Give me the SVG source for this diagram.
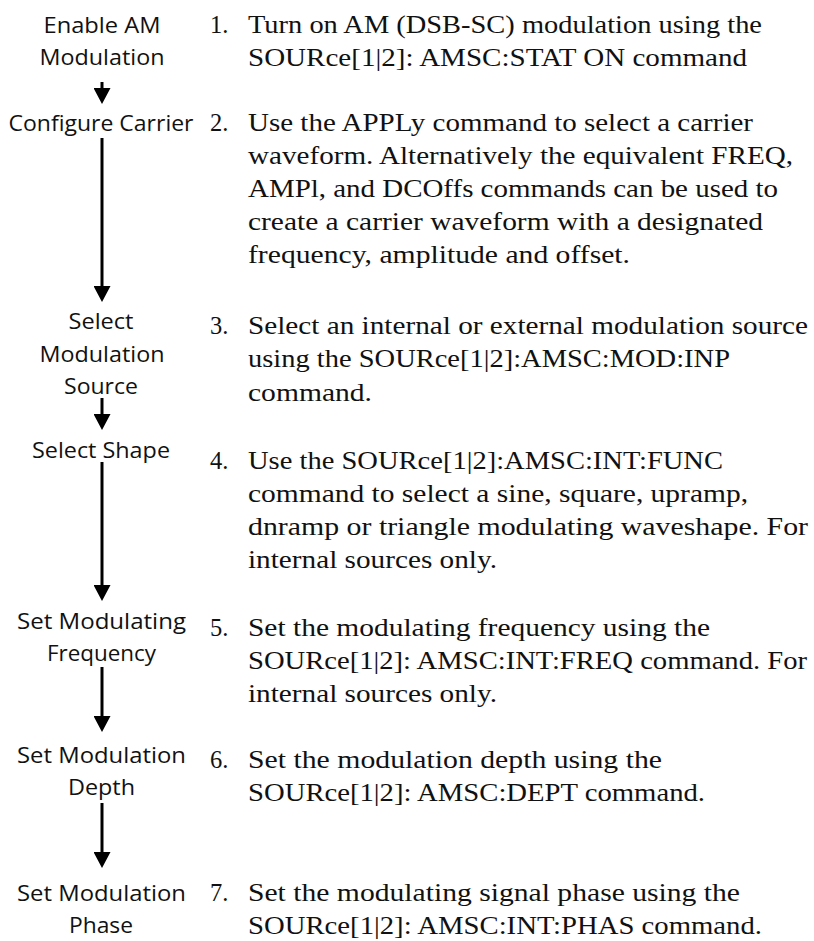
<svg xmlns="http://www.w3.org/2000/svg" width="814" height="941" viewBox="0 0 814 941">
<style>
  .lbl { font-family: "Open Sans", "Noto Sans", "Liberation Sans", sans-serif; font-size: 22px; fill: #111; text-anchor: middle; }
  .num { font-family: "Liberation Serif", "DejaVu Serif", serif; font-size: 24.5px; fill: #111; }
  .txt { font-family: "Liberation Serif", "DejaVu Serif", serif; font-size: 24.5px; fill: #111; }
  .conn { stroke: #000; stroke-width: 3; fill: none; }
</style>
<defs>
  <marker id="ah" markerUnits="userSpaceOnUse" markerWidth="16" markerHeight="17" viewBox="0 0 16 17" refX="6" refY="8.5" orient="auto">
    <path d="M0,0 L16,8.5 L0,17 Z" fill="#000"/>
  </marker>
</defs>
<rect width="814" height="941" fill="#fff"/>
<g id="connectors">
  <line class="conn" x1="102" y1="82" x2="102" y2="94" marker-end="url(#ah)"/>
  <line class="conn" x1="102" y1="138" x2="102" y2="292" marker-end="url(#ah)"/>
  <line class="conn" x1="102" y1="398" x2="102" y2="420" marker-end="url(#ah)"/>
  <line class="conn" x1="102" y1="462" x2="102" y2="591" marker-end="url(#ah)"/>
  <line class="conn" x1="102" y1="667" x2="102" y2="722" marker-end="url(#ah)"/>
  <line class="conn" x1="102" y1="803" x2="102" y2="858" marker-end="url(#ah)"/>
</g>
<g id="node1">
  <text class="lbl" x="102" y="33" textLength="117" lengthAdjust="spacingAndGlyphs">Enable AM</text>
  <text class="lbl" x="102" y="65" textLength="125" lengthAdjust="spacingAndGlyphs">Modulation</text>
  <text class="num" x="210" y="33">1.</text>
  <text class="txt" x="248" y="33" textLength="514" lengthAdjust="spacingAndGlyphs">Turn on AM (DSB-SC) modulation using the</text>
  <text class="txt" x="248" y="66" textLength="499" lengthAdjust="spacingAndGlyphs">SOURce[1|2]: AMSC:STAT ON command</text>
</g>
<g id="node2">
  <text class="lbl" x="101" y="131" textLength="185" lengthAdjust="spacingAndGlyphs">Configure Carrier</text>
  <text class="num" x="210" y="131">2.</text>
  <text class="txt" x="248" y="131" textLength="505" lengthAdjust="spacingAndGlyphs">Use the APPLy command to select a carrier</text>
  <text class="txt" x="248" y="164" textLength="545" lengthAdjust="spacingAndGlyphs">waveform. Alternatively the equivalent FREQ,</text>
  <text class="txt" x="248" y="197" textLength="530" lengthAdjust="spacingAndGlyphs">AMPl, and DCOffs commands can be used to</text>
  <text class="txt" x="248" y="230" textLength="515" lengthAdjust="spacingAndGlyphs">create a carrier waveform with a designated</text>
  <text class="txt" x="248" y="263" textLength="382" lengthAdjust="spacingAndGlyphs">frequency, amplitude and offset.</text>
</g>
<g id="node3">
  <text class="lbl" x="101" y="329" textLength="65" lengthAdjust="spacingAndGlyphs">Select</text>
  <text class="lbl" x="102" y="362" textLength="125" lengthAdjust="spacingAndGlyphs">Modulation</text>
  <text class="lbl" x="101" y="394" textLength="74" lengthAdjust="spacingAndGlyphs">Source</text>
  <text class="num" x="210" y="334">3.</text>
  <text class="txt" x="248" y="334" textLength="560" lengthAdjust="spacingAndGlyphs">Select an internal or external modulation source</text>
  <text class="txt" x="248" y="367" textLength="482" lengthAdjust="spacingAndGlyphs">using the SOURce[1|2]:AMSC:MOD:INP</text>
  <text class="txt" x="248" y="401" textLength="124" lengthAdjust="spacingAndGlyphs">command.</text>
</g>
<g id="node4">
  <text class="lbl" x="101" y="458" textLength="138" lengthAdjust="spacingAndGlyphs">Select Shape</text>
  <text class="num" x="210" y="469">4.</text>
  <text class="txt" x="248" y="469" textLength="475" lengthAdjust="spacingAndGlyphs">Use the SOURce[1|2]:AMSC:INT:FUNC</text>
  <text class="txt" x="248" y="502" textLength="500" lengthAdjust="spacingAndGlyphs">command to select a sine, square, upramp,</text>
  <text class="txt" x="248" y="535" textLength="560" lengthAdjust="spacingAndGlyphs">dnramp or triangle modulating waveshape. For</text>
  <text class="txt" x="248" y="568" textLength="249" lengthAdjust="spacingAndGlyphs">internal sources only.</text>
</g>
<g id="node5">
  <text class="lbl" x="101.5" y="629" textLength="169" lengthAdjust="spacingAndGlyphs">Set Modulating</text>
  <text class="lbl" x="101.5" y="661" textLength="109" lengthAdjust="spacingAndGlyphs">Frequency</text>
  <text class="num" x="210" y="636">5.</text>
  <text class="txt" x="248" y="636" textLength="462" lengthAdjust="spacingAndGlyphs">Set the modulating frequency using the</text>
  <text class="txt" x="248" y="669" textLength="559" lengthAdjust="spacingAndGlyphs">SOURce[1|2]: AMSC:INT:FREQ command. For</text>
  <text class="txt" x="248" y="702" textLength="249" lengthAdjust="spacingAndGlyphs">internal sources only.</text>
</g>
<g id="node6">
  <text class="lbl" x="101.5" y="763" textLength="169" lengthAdjust="spacingAndGlyphs">Set Modulation</text>
  <text class="lbl" x="101.5" y="795" textLength="67" lengthAdjust="spacingAndGlyphs">Depth</text>
  <text class="num" x="210" y="768">6.</text>
  <text class="txt" x="248" y="768" textLength="414" lengthAdjust="spacingAndGlyphs">Set the modulation depth using the</text>
  <text class="txt" x="248" y="801" textLength="457" lengthAdjust="spacingAndGlyphs">SOURce[1|2]: AMSC:DEPT command.</text>
</g>
<g id="node7">
  <text class="lbl" x="101.5" y="901" textLength="169" lengthAdjust="spacingAndGlyphs">Set Modulation</text>
  <text class="lbl" x="101" y="933" textLength="64" lengthAdjust="spacingAndGlyphs">Phase</text>
  <text class="num" x="210" y="901">7.</text>
  <text class="txt" x="248" y="901" textLength="492" lengthAdjust="spacingAndGlyphs">Set the modulating signal phase using the</text>
  <text class="txt" x="248" y="934" textLength="514" lengthAdjust="spacingAndGlyphs">SOURce[1|2]: AMSC:INT:PHAS command.</text>
</g>
</svg>
